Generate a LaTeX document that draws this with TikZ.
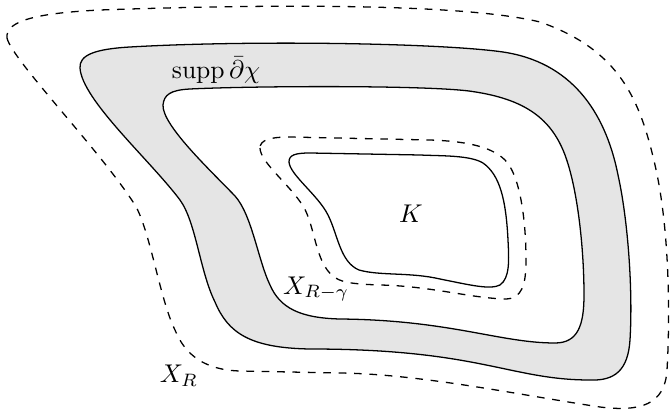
\documentclass[tikz,border=0pt]{standalone}
\usepackage{amsmath,amssymb}
\usetikzlibrary{positioning}
\tikzset{level/.style={draw=black,line width=0.5pt},
  levelcut/.style={level,dashed},
  band/.style={level,fill=gray!20,even odd rule},
  lab/.style={inner sep=1pt}}

\begin{document}
\begin{tikzpicture}[x=0.39pt,y=-0.39pt]
\useasboundingbox (0,0) rectangle (672,411);
% shaded band: supp of dbar chi
\draw[band] (80,68) .. controls (82,100) and (150,160) .. (180,200)
  .. controls (196,222) and (200,272) .. (215,302)
  .. controls (228,333) and (250,348) .. (310,349)
  .. controls (480,349) and (510,380) .. (590,380)
  .. controls (615,381) and (628,370) .. (630,340)
  .. controls (633,290) and (628,220) .. (618,175)
  .. controls (605,110) and (570,62) .. (503,52)
  .. controls (440,43) and (250,40) .. (130,47)
  .. controls (95,49) and (79,55) .. (80,68) -- cycle
  (163,105) .. controls (162,125) and (210,170) .. (235,196)
  .. controls (252,215) and (258,260) .. (270,285)
  .. controls (280,308) and (300,318) .. (340,319)
  .. controls (450,320) and (500,343) .. (555,343)
  .. controls (578,343) and (584,325) .. (584,295)
  .. controls (584,250) and (578,190) .. (565,155)
  .. controls (550,115) and (520,98) .. (469,91)
  .. controls (420,85) and (250,86) .. (190,89)
  .. controls (170,90) and (164,95) .. (163,105) -- cycle;
% X_R
\draw[levelcut] (7,38) .. controls (12,60) and (100,150) .. (135,205)
  .. controls (150,230) and (160,300) .. (175,330)
  .. controls (185,355) and (205,370) .. (240,371)
  -- (340,373) .. controls (420,374) and (520,395) .. (600,407)
  .. controls (640,412) and (665,405) .. (667,370)
  .. controls (670,320) and (670,230) .. (655,165)
  .. controls (640,100) and (620,50) .. (540,22)
  .. controls (470,5) and (300,3) .. (100,10)
  .. controls (40,13) and (5,20) .. (7,38) -- cycle;
% X_{R-gamma}
\draw[levelcut] (260,148) .. controls (260,162) and (290,185) .. (303,206)
  .. controls (315,225) and (315,262) .. (333,276)
  .. controls (340,282) and (350,284) .. (380,285)
  .. controls (430,286) and (470,298) .. (505,299)
  .. controls (522,299) and (526,285) .. (526,260)
  .. controls (526,220) and (520,175) .. (505,160)
  .. controls (490,145) and (460,141) .. (430,140)
  -- (290,137) .. controls (270,137) and (260,140) .. (260,148) -- cycle;
% K
\draw[level] (289,162) .. controls (290,175) and (318,195) .. (328,215)
  .. controls (338,235) and (340,262) .. (359,270)
  .. controls (380,276) and (410,272) .. (440,279)
  .. controls (470,285) and (490,290) .. (500,285)
  .. controls (510,278) and (509,260) .. (508,240)
  .. controls (506,200) and (500,175) .. (483,163)
  .. controls (470,155) and (440,156) .. (420,155)
  -- (310,153) .. controls (295,153) and (289,155) .. (289,162) -- cycle;
\node[lab] (supp) at (216,70) {$\operatorname{supp}\bar\partial\chi$};
\node[lab] (K) at (411,214) {$K$};
\node[lab] (XRg) at (316,289) {$X_{R-\gamma}$};
\node[lab] (XR) at (179,376) {$X_R$};
\end{tikzpicture}
\end{document}
